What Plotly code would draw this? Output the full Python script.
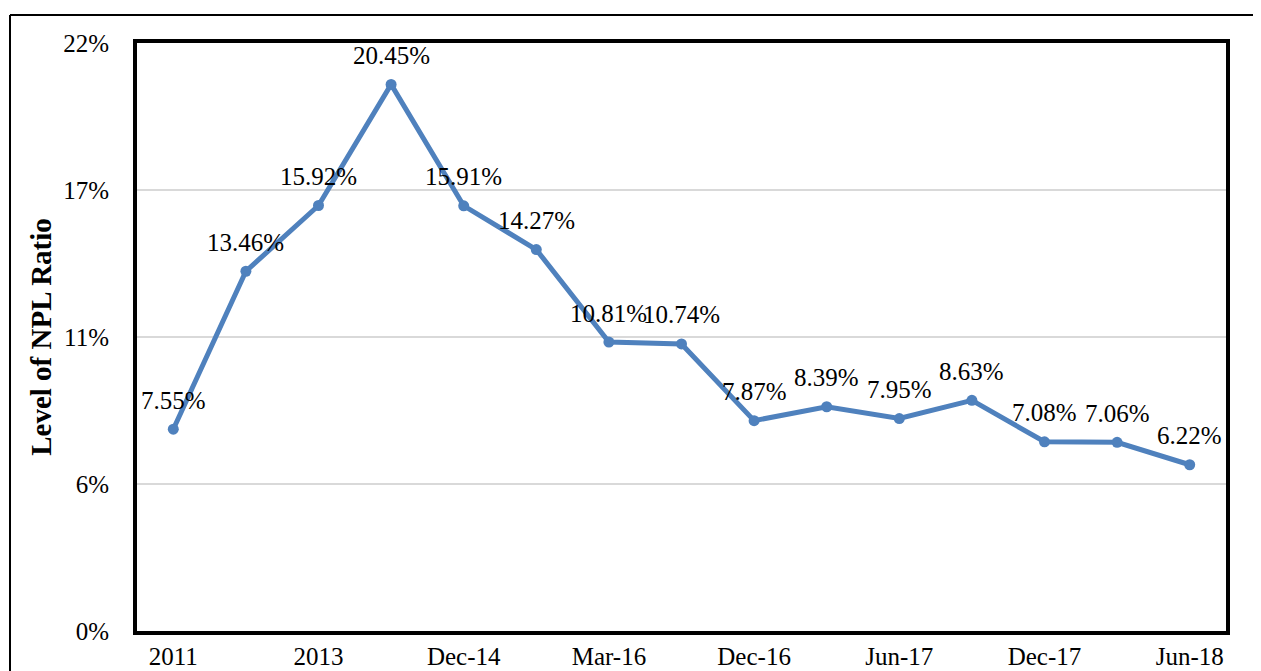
import plotly.graph_objects as go

categories = ["2011", "2012", "2013", "Jun-14", "Dec-14", "Jun-15", "Mar-16", "Jun-16",
              "Dec-16", "Mar-17", "Jun-17", "Sep-17", "Dec-17", "Mar-18", "Jun-18"]
npl_ratio = [7.55, 13.46, 15.92, 20.45, 15.91, 14.27, 10.81, 10.74,
             7.87, 8.39, 7.95, 8.63, 7.08, 7.06, 6.22]
y_tick_vals = [0, 5.5, 11, 16.5, 22]
y_tick_text = ["0%", "6%", "11%", "17%", "22%"]
x_tick_vals = categories[::2]

FONT = "Liberation Serif"
BLUE = "rgb(79,129,189)"

# page body has an 8px margin, so the figure is sized to fit the window
W, H = 1253, 663
L, R, T, B = 129, 35, 35, 40
PW, PH = W - L - R, H - T - B

fig = go.Figure()
fig.add_trace(go.Scatter(
    x=categories, y=npl_ratio, mode="lines+markers",
    line=dict(color=BLUE, width=5),
    marker=dict(color=BLUE, size=11),
    hoverinfo="x+y", showlegend=False,
))

for i, v in enumerate(npl_ratio):
    fig.add_annotation(x=i, y=v, text=f"{v:.2f}%", showarrow=False,
                       yshift=29, font=dict(family=FONT, size=25, color="black"))

fig.update_layout(
    width=W, height=H,
    margin=dict(l=L, r=R, t=T, b=B, autoexpand=False),
    paper_bgcolor="white", plot_bgcolor="white",
    font=dict(family=FONT, size=25, color="black"),
    xaxis=dict(
        type="category", range=[-0.5, len(categories) - 0.5],
        tickmode="array", tickvals=x_tick_vals, automargin=False,
        showgrid=False, showline=True, mirror=True, linecolor="black", linewidth=4,
        ticks="", ticklabelstandoff=0,
        tickfont=dict(family=FONT, size=25, color="black"),
    ),
    yaxis=dict(
        range=[0, 22], tickmode="array", tickvals=y_tick_vals, ticktext=y_tick_text,
        automargin=False,
        showgrid=True, gridcolor="#d9d9d9", gridwidth=2,
        showline=True, mirror=True, linecolor="black", linewidth=4,
        ticks="", ticklabelstandoff=19, zeroline=False,
        tickfont=dict(family=FONT, size=25, color="black"),
        title=dict(text="<b>Level of NPL Ratio</b>", standoff=4,
                   font=dict(family=FONT, size=29, color="black")),
    ),
)

# outer frame of the figure (top and left edges visible)
def px_x(p):
    return (p - L) / PW

def px_y(p):
    return (H - B - p) / PH

fig.add_shape(type="line", xref="paper", yref="paper",
              x0=px_x(2), x1=px_x(W), y0=px_y(7), y1=px_y(7),
              line=dict(color="black", width=2), layer="below")
fig.add_shape(type="line", xref="paper", yref="paper",
              x0=px_x(2), x1=px_x(2), y0=px_y(7), y1=px_y(H),
              line=dict(color="black", width=2), layer="below")

fig.write_html("out.html")
